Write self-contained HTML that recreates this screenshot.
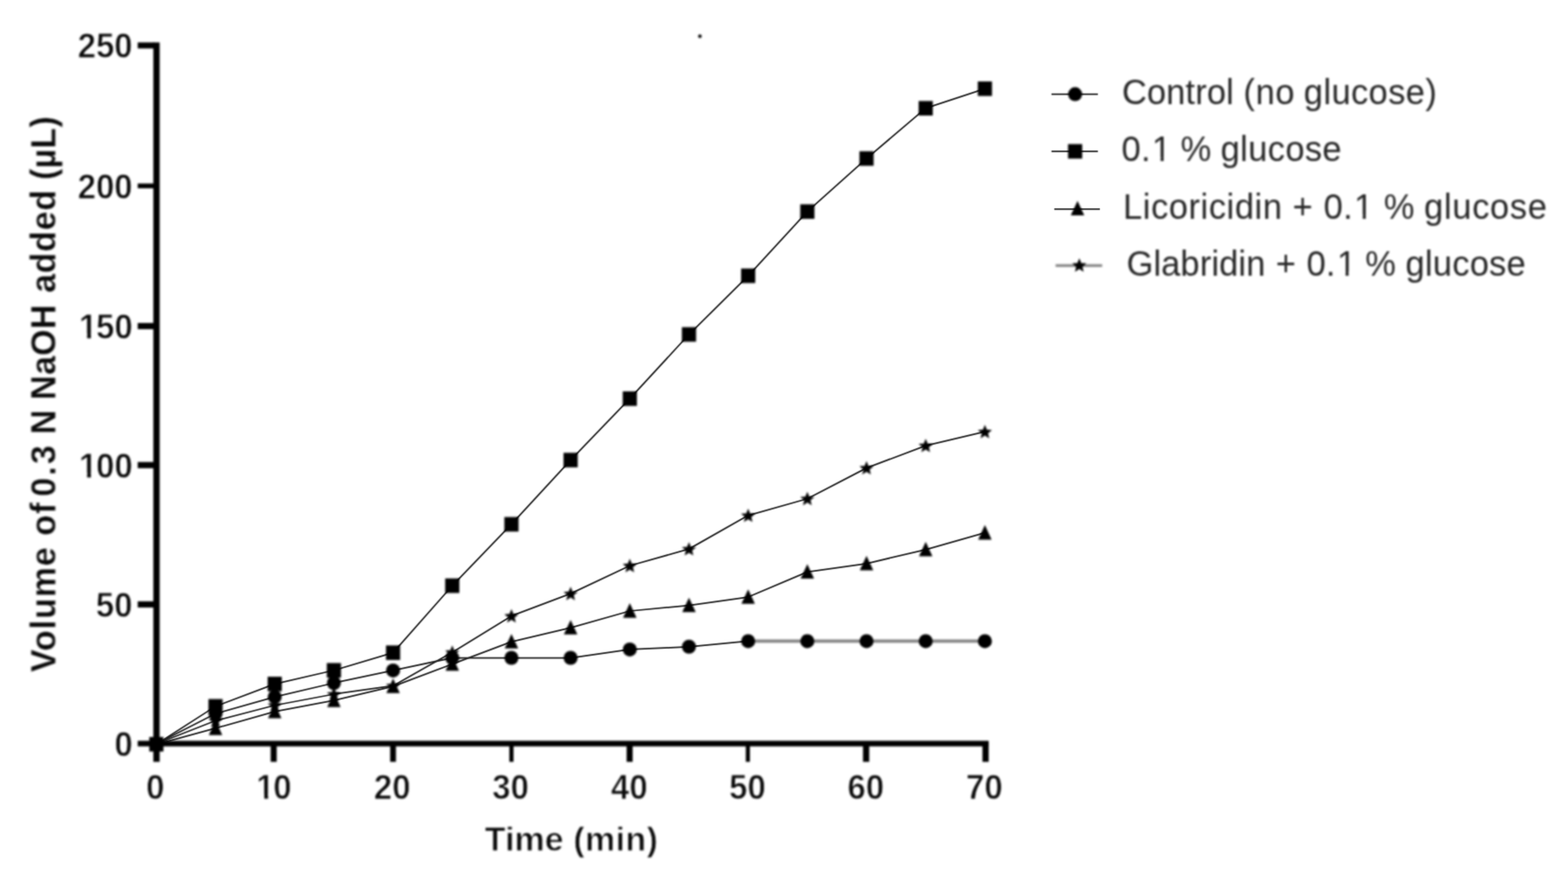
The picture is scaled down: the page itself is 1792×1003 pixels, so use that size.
<!DOCTYPE html>
<html lang="en"><head><meta charset="utf-8"><title>Volume of 0.3 N NaOH added vs time</title>
<style>
html,body{margin:0;padding:0;background:#fff;}
body{width:1792px;height:1003px;overflow:hidden;}
svg{display:block;}
text{font-family:"Liberation Sans",Arial,Helvetica,sans-serif;fill:#000;}
.tick{font-weight:700;font-size:38.6px;fill:#0b0b0b;stroke:#fff;stroke-width:0.8px;stroke-linejoin:round;}
.title{font-weight:700;font-size:38.8px;fill:#0b0b0b;stroke:#fff;stroke-width:0.8px;stroke-linejoin:round;}
.ytitle{stroke-width:0.3px;}
.leg{font-weight:400;font-size:39.4px;fill:#262626;}
.soft{filter:url(#soft);}
</style></head><body>
<svg width="1792" height="1003" viewBox="0 0 1792 1003">
<defs><filter id="soft" x="0" y="0" width="1792" height="1003" filterUnits="userSpaceOnUse" color-interpolation-filters="sRGB"><feGaussianBlur stdDeviation="1.0"/></filter>
<filter id="mild" x="0" y="0" width="1792" height="1003" filterUnits="userSpaceOnUse" color-interpolation-filters="sRGB"><feConvolveMatrix order="3" kernelMatrix="0.0225 0.1050 0.0225 0.1050 0.4900 0.1050 0.0225 0.1050 0.0225" edgeMode="duplicate" preserveAlpha="false"/></filter></defs>
<rect width="1792" height="1003" fill="#fff"/>
<g id="lines" filter="url(#mild)" fill="none" stroke-linejoin="round">
<g stroke="#202020" stroke-width="1.75"><polyline points="178.70,849.70 246.33,815.31 313.97,796.18 381.61,780.23 449.24,765.88 516.88,751.52 584.51,751.52 652.14,751.52 719.78,741.95 787.41,738.76 855.05,732.38"/><polyline points="178.70,850.20 246.33,806.88 313.97,781.37 381.61,765.74 449.24,745.64 516.88,669.09 584.51,598.92 652.14,525.56 719.78,455.39 787.41,382.03 855.05,315.05 922.68,241.69 990.32,181.08 1057.95,123.67 1125.59,101.34"/><polyline points="178.70,850.40 246.33,831.96 313.97,812.82 381.61,800.07 449.24,784.12 516.88,758.60 584.51,733.08 652.14,717.14 719.78,698.00 787.41,691.62 855.05,682.05 922.68,653.34 990.32,643.78 1057.95,627.83 1125.59,608.69"/><polyline points="178.70,849.70 246.33,823.29 313.97,805.75 381.61,792.99 449.24,783.42 516.88,745.14 584.51,703.68 652.14,678.16 719.78,646.27 787.41,627.13 855.05,588.85 922.68,569.72 990.32,534.63 1057.95,509.11 1125.59,493.16"/><line x1="1201.70" y1="107.60" x2="1254.70" y2="107.60"/><line x1="1201.70" y1="172.90" x2="1254.70" y2="172.90"/><line x1="1204.90" y1="238.80" x2="1257.00" y2="238.80"/></g>
</g>
<g class="soft">
<g fill="none" stroke="#858585" stroke-width="3.8"><line x1="855.05" y1="732.38" x2="1125.59" y2="732.38"/></g>
<g fill="#000">
<circle cx="178.70" cy="849.70" r="8.0"/>
<circle cx="246.33" cy="815.31" r="8.0"/>
<circle cx="313.97" cy="796.18" r="8.0"/>
<circle cx="381.61" cy="780.23" r="8.0"/>
<circle cx="449.24" cy="765.88" r="8.0"/>
<circle cx="516.88" cy="751.52" r="8.0"/>
<circle cx="584.51" cy="751.52" r="8.0"/>
<circle cx="652.14" cy="751.52" r="8.0"/>
<circle cx="719.78" cy="741.95" r="8.0"/>
<circle cx="787.41" cy="738.76" r="8.0"/>
<circle cx="855.05" cy="732.38" r="8.0"/>
<circle cx="922.68" cy="732.38" r="8.0"/>
<circle cx="990.32" cy="732.38" r="8.0"/>
<circle cx="1057.95" cy="732.38" r="8.0"/>
<circle cx="1125.59" cy="732.38" r="8.0"/>
<rect x="170.60" y="841.90" width="16.2" height="16.6"/>
<rect x="238.23" y="798.58" width="16.2" height="16.6"/>
<rect x="305.87" y="773.07" width="16.2" height="16.6"/>
<rect x="373.50" y="757.44" width="16.2" height="16.6"/>
<rect x="441.14" y="737.34" width="16.2" height="16.6"/>
<rect x="508.77" y="660.79" width="16.2" height="16.6"/>
<rect x="576.41" y="590.62" width="16.2" height="16.6"/>
<rect x="644.04" y="517.26" width="16.2" height="16.6"/>
<rect x="711.68" y="447.09" width="16.2" height="16.6"/>
<rect x="779.31" y="373.73" width="16.2" height="16.6"/>
<rect x="846.95" y="306.75" width="16.2" height="16.6"/>
<rect x="914.58" y="233.39" width="16.2" height="16.6"/>
<rect x="982.22" y="172.78" width="16.2" height="16.6"/>
<rect x="1049.86" y="115.37" width="16.2" height="16.6"/>
<rect x="1117.49" y="93.04" width="16.2" height="16.6"/>
<polygon points="178.70,841.50 186.40,858.10 171.00,858.10"/>
<polygon points="246.33,823.06 254.03,839.66 238.63,839.66"/>
<polygon points="313.97,803.92 321.67,820.52 306.27,820.52"/>
<polygon points="381.61,791.17 389.31,807.77 373.91,807.77"/>
<polygon points="449.24,775.22 456.94,791.82 441.54,791.82"/>
<polygon points="516.88,749.70 524.58,766.30 509.18,766.30"/>
<polygon points="584.51,724.18 592.21,740.78 576.81,740.78"/>
<polygon points="652.14,708.24 659.85,724.84 644.44,724.84"/>
<polygon points="719.78,689.10 727.48,705.70 712.08,705.70"/>
<polygon points="787.41,682.72 795.12,699.32 779.71,699.32"/>
<polygon points="855.05,673.15 862.75,689.75 847.35,689.75"/>
<polygon points="922.68,644.44 930.38,661.04 914.98,661.04"/>
<polygon points="990.32,634.88 998.02,651.48 982.62,651.48"/>
<polygon points="1057.95,618.93 1065.65,635.53 1050.25,635.53"/>
<polygon points="1125.59,599.79 1133.29,616.39 1117.89,616.39"/>
<polygon points="178.70,841.80 180.93,847.23 186.78,847.67 182.31,851.47 183.70,857.18 178.70,854.10 173.70,857.18 175.09,851.47 170.62,847.67 176.47,847.23"/>
<polygon points="246.33,815.39 248.57,820.81 254.42,821.26 249.95,825.06 251.33,830.77 246.33,827.69 241.34,830.77 242.72,825.06 238.25,821.26 244.10,820.81"/>
<polygon points="313.97,797.85 316.20,803.27 322.05,803.72 317.58,807.52 318.97,813.22 313.97,810.15 308.97,813.22 310.36,807.52 305.89,803.72 311.74,803.27"/>
<polygon points="381.61,785.09 383.84,790.51 389.69,790.96 385.22,794.76 386.60,800.46 381.61,797.39 376.61,800.46 377.99,794.76 373.52,790.96 379.37,790.51"/>
<polygon points="449.24,775.52 451.47,780.94 457.32,781.39 452.85,785.19 454.24,790.90 449.24,787.82 444.24,790.90 445.63,785.19 441.16,781.39 447.01,780.94"/>
<polygon points="516.88,737.24 519.11,742.67 524.96,743.12 520.49,746.92 521.87,752.62 516.88,749.54 511.88,752.62 513.26,746.92 508.79,743.12 514.64,742.67"/>
<polygon points="584.51,695.78 586.74,701.20 592.59,701.65 588.12,705.45 589.51,711.16 584.51,708.08 579.51,711.16 580.90,705.45 576.43,701.65 582.28,701.20"/>
<polygon points="652.14,670.26 654.38,675.69 660.23,676.13 655.76,679.94 657.14,685.64 652.14,682.56 647.15,685.64 648.53,679.94 644.06,676.13 649.91,675.69"/>
<polygon points="719.78,638.37 722.01,643.79 727.86,644.24 723.39,648.04 724.78,653.74 719.78,650.67 714.78,653.74 716.17,648.04 711.70,644.24 717.55,643.79"/>
<polygon points="787.41,619.23 789.65,624.65 795.50,625.10 791.03,628.90 792.41,634.60 787.41,631.53 782.42,634.60 783.80,628.90 779.33,625.10 785.18,624.65"/>
<polygon points="855.05,580.95 857.28,586.38 863.13,586.83 858.66,590.63 860.05,596.33 855.05,593.25 850.05,596.33 851.44,590.63 846.97,586.83 852.82,586.38"/>
<polygon points="922.68,561.82 924.92,567.24 930.77,567.69 926.30,571.49 927.68,577.19 922.68,574.12 917.69,577.19 919.07,571.49 914.60,567.69 920.45,567.24"/>
<polygon points="990.32,526.73 992.55,532.16 998.40,532.60 993.93,536.40 995.32,542.11 990.32,539.03 985.32,542.11 986.71,536.40 982.24,532.60 988.09,532.16"/>
<polygon points="1057.95,501.21 1060.19,506.64 1066.04,507.09 1061.57,510.89 1062.95,516.59 1057.95,513.51 1052.96,516.59 1054.34,510.89 1049.87,507.09 1055.72,506.64"/>
<polygon points="1125.59,485.26 1127.82,490.69 1133.67,491.14 1129.20,494.94 1130.59,500.64 1125.59,497.56 1120.59,500.64 1121.98,494.94 1117.51,491.14 1123.36,490.69"/>
</g>
<g fill="#000">
<rect x="175.25" y="48.45" width="7.20" height="821.85"/>
<rect x="157.40" y="846.25" width="972.50" height="6.40"/>
<rect x="157.40" y="686.90" width="18.85" height="7.10"/>
<rect x="157.40" y="527.75" width="18.85" height="7.10"/>
<rect x="157.40" y="368.95" width="18.85" height="7.10"/>
<rect x="157.40" y="209.60" width="18.85" height="5.50"/>
<rect x="157.40" y="48.45" width="18.85" height="6.90"/>
<rect x="309.35" y="847.25" width="6.90" height="23.05"/>
<rect x="445.90" y="847.25" width="6.60" height="23.05"/>
<rect x="582.10" y="847.25" width="4.80" height="23.05"/>
<rect x="716.15" y="847.25" width="6.90" height="23.05"/>
<rect x="852.35" y="847.25" width="4.70" height="23.05"/>
<rect x="986.30" y="847.25" width="7.10" height="23.05"/>
<rect x="1122.80" y="847.25" width="7.10" height="23.05"/>
</g>
<text class="tick" transform="translate(0 863.75) scale(0.9770 1.0750)" x="133.78" y="0">0</text>
<text class="tick" transform="translate(0 704.75) scale(0.9770 1.0750)" x="112.04" y="0">50</text>
<text class="tick" transform="translate(0 545.60) scale(0.9770 1.0750)" y="0"><tspan x="92.48">1</tspan><tspan x="112.25">00</tspan></text><g transform="translate(0 545.60) scale(0.9770 1.0750)" fill="#fff"><rect x="93.41" y="-5.14" width="8.48" height="6.64"/><rect x="106.39" y="-5.14" width="7.99" height="6.64"/></g>
<text class="tick" transform="translate(0 386.80) scale(0.9770 1.0750)" y="0"><tspan x="92.48">1</tspan><tspan x="112.25">50</tspan></text><g transform="translate(0 386.80) scale(0.9770 1.0750)" fill="#fff"><rect x="93.41" y="-5.14" width="8.48" height="6.64"/><rect x="106.39" y="-5.14" width="7.99" height="6.64"/></g>
<text class="tick" transform="translate(0 226.65) scale(0.9770 1.0750)" x="90.78" y="0">200</text>
<text class="tick" transform="translate(0 66.20) scale(0.9770 1.0750)" x="90.78" y="0">250</text>
<text class="tick" transform="translate(0 912.50) scale(0.9770 1.0750)" x="171.05" y="0">0</text>
<text class="tick" transform="translate(0 912.50) scale(0.9770 1.0750)" y="0"><tspan x="299.72">1</tspan><tspan x="319.49">0</tspan></text><g transform="translate(0 912.50) scale(0.9770 1.0750)" fill="#fff"><rect x="300.65" y="-5.14" width="8.48" height="6.64"/><rect x="313.63" y="-5.14" width="7.99" height="6.64"/></g>
<text class="tick" transform="translate(0 912.50) scale(0.9770 1.0750)" x="437.28" y="0">20</text>
<text class="tick" transform="translate(0 912.50) scale(0.9770 1.0750)" x="575.87" y="0">30</text>
<text class="tick" transform="translate(0 912.50) scale(0.9770 1.0750)" x="714.82" y="0">40</text>
<text class="tick" transform="translate(0 912.50) scale(0.9770 1.0750)" x="852.86" y="0">50</text>
<text class="tick" transform="translate(0 912.50) scale(0.9770 1.0750)" x="991.41" y="0">60</text>
<text class="tick" transform="translate(0 912.50) scale(0.9770 1.0750)" x="1129.93" y="0">70</text>
<text class="title" transform="translate(0 972.40) scale(1.0000 1.0200)" y="0"><tspan x="554.09" style="letter-spacing:0.073px">Time</tspan> <tspan x="655.18" style="letter-spacing:0.465px">(min)</tspan></text>
<text class="title ytitle" transform="translate(63.90 768.00) rotate(-90) scale(1.0000 1.0400)" y="0"><tspan x="0.15" style="letter-spacing:1.100px">Volume</tspan> <tspan x="155.97" style="letter-spacing:1.400px">of</tspan> <tspan x="200.68" style="letter-spacing:2.325px">0.3</tspan> <tspan x="271.75" style="letter-spacing:0.300px">N</tspan> <tspan x="311.27" style="letter-spacing:0.357px">NaOH</tspan> <tspan x="433.39" style="letter-spacing:0.855px">added</tspan> <tspan x="562.38" style="letter-spacing:0.320px">(µL)</tspan></text>
<g fill="#000"><circle cx="1228.70" cy="107.60" r="8.0"/></g>
<text class="leg" transform="translate(0 118.90) scale(1.0000 1.0400)" y="0"><tspan x="1282.27" style="letter-spacing:0.113px">Control</tspan> <tspan x="1421.12" style="letter-spacing:0.675px">(no</tspan> <tspan x="1490.12" style="letter-spacing:0.429px">glucose)</tspan></text>
<g fill="#000"><rect x="1220.60" y="164.60" width="16.2" height="16.6"/></g>
<text class="leg" transform="translate(0 184.00) scale(1.0000 1.0400)" y="0"><tspan x="1281.75" style="letter-spacing:0.300px">0.</tspan><tspan x="1316.51">1</tspan> <tspan x="1349.19" style="letter-spacing:0.300px">%</tspan> <tspan x="1395.02" style="letter-spacing:0.403px">glucose</tspan></text><g transform="translate(0 184.00) scale(1.0000 1.0400)" fill="#fff"><rect x="1318.01" y="-4.14" width="8.41" height="5.64"/><rect x="1329.90" y="-4.14" width="8.10" height="5.64"/></g>
<g fill="#000"><polygon points="1231.45,229.40 1239.15,246.00 1223.75,246.00"/></g>
<text class="leg" transform="translate(0 249.70) scale(1.0000 1.0400)" y="0"><tspan x="1283.55" style="letter-spacing:0.637px">Licoricidin</tspan> <tspan x="1477.21" style="letter-spacing:0.300px">+</tspan> <tspan x="1512.75" style="letter-spacing:0.300px">0.</tspan><tspan x="1547.51">1</tspan> <tspan x="1581.44" style="letter-spacing:0.300px">%</tspan> <tspan x="1627.52" style="letter-spacing:0.770px">glucose</tspan></text><g transform="translate(0 249.70) scale(1.0000 1.0400)" fill="#fff"><rect x="1549.01" y="-4.14" width="8.41" height="5.64"/><rect x="1560.90" y="-4.14" width="8.10" height="5.64"/></g>
<line x1="1206.40" y1="303.40" x2="1259.60" y2="303.40" stroke="#8a8a8a" stroke-width="3.4"/>
<g fill="#000"><polygon points="1233.50,295.00 1235.73,300.43 1241.58,300.87 1237.11,304.67 1238.50,310.38 1233.50,307.30 1228.50,310.38 1229.89,304.67 1225.42,300.87 1231.27,300.43"/></g>
<text class="leg" transform="translate(0 314.70) scale(1.0000 1.0400)" y="0"><tspan x="1287.40" style="letter-spacing:0.139px">Glabridin</tspan> <tspan x="1458.01" style="letter-spacing:0.300px">+</tspan> <tspan x="1493.15" style="letter-spacing:0.300px">0.</tspan><tspan x="1527.91">1</tspan> <tspan x="1560.14" style="letter-spacing:0.300px">%</tspan> <tspan x="1606.22" style="letter-spacing:0.287px">glucose</tspan></text><g transform="translate(0 314.70) scale(1.0000 1.0400)" fill="#fff"><rect x="1529.41" y="-4.14" width="8.41" height="5.64"/><rect x="1541.30" y="-4.14" width="8.10" height="5.64"/></g>
<circle cx="799.9" cy="41.4" r="2.1" fill="#111"/>
</g>
</svg></body></html>
